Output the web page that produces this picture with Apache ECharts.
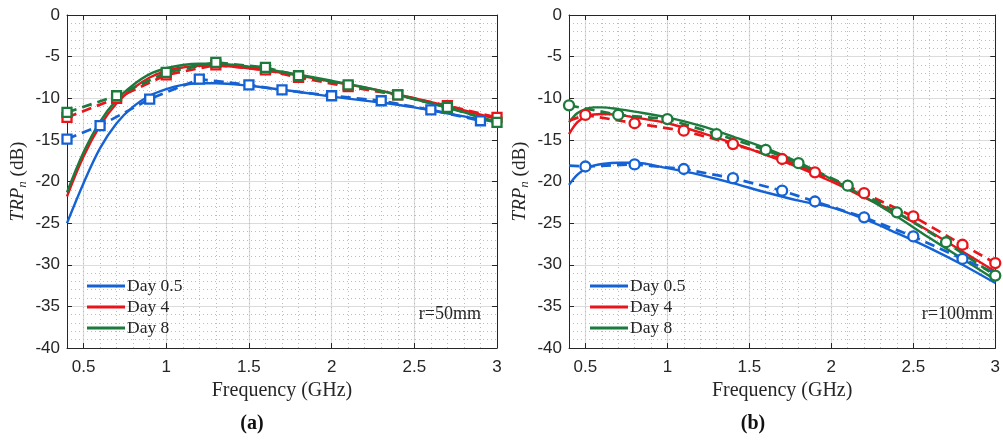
<!DOCTYPE html>
<html>
<head>
<meta charset="utf-8">
<script src="https://cdn.jsdelivr.net/npm/echarts@6/dist/echarts.min.js"></script>
<style>html,body{margin:0;padding:0;background:#fff}#c{width:1003px;height:441px}</style>
</head>
<body>
<div id="c"></div>
<script>
// ---------- tick labels ----------
const xMajor = [0.5, 1, 1.5, 2, 2.5, 3];
const xMinor = [0.5,0.6,0.7,0.8,0.9,1,1.1,1.2,1.3,1.4,1.5,1.6,1.7,1.8,1.9,2,2.1,2.2,2.3,2.4,2.5,2.6,2.7,2.8,2.9];
const seriesNames = ['Day 0.5', 'Day 4', 'Day 8'];

// ---------- (a) r=50mm : model (solid) ----------
const aModelFreq = [0.4,0.5,0.6,0.7,0.8,0.9,1.0,1.1,1.2,1.3,1.5,1.75,2.0,2.25,2.5,2.75,3.0];
const aModelDay05 = [-25.0,-20.2,-16.0,-13.0,-11.0,-9.7,-8.9,-8.4,-8.2,-8.2,-8.5,-9.1,-9.8,-10.4,-11.1,-12.0,-12.9];
const aModelDay4  = [-21.8,-17.0,-13.3,-10.6,-8.8,-7.5,-6.7,-6.3,-6.1,-6.1,-6.4,-7.1,-8.0,-8.9,-10.0,-11.2,-12.5];
const aModelDay8  = [-21.3,-16.5,-12.8,-10.2,-8.4,-7.1,-6.4,-6.0,-5.85,-5.85,-6.2,-7.0,-7.9,-8.9,-10.1,-11.4,-12.9];

// ---------- (a) r=50mm : measured (dashed + squares) ----------
const aMeasFreqDay05 = [0.4,0.6,0.9,1.2,1.5,1.7,2.0,2.3,2.6,2.9];
const aMeasDay05     = [-14.9,-13.3,-10.1,-7.7,-8.4,-9.0,-9.7,-10.3,-11.4,-12.7];
const aMeasFreqDay48 = [0.4,0.7,1.0,1.3,1.6,1.8,2.1,2.4,2.7,3.0];
const aMeasDay4      = [-12.3,-10.0,-7.2,-6.0,-6.6,-7.5,-8.6,-9.6,-10.9,-12.3];
const aMeasDay8      = [-11.7,-9.7,-6.9,-5.7,-6.3,-7.3,-8.4,-9.6,-11.1,-12.9];

// ---------- (b) r=100mm : model (solid) ----------
const bModelFreq = [0.4,0.45,0.5,0.55,0.6,0.7,0.8,1.0,1.2,1.4,1.6,1.8,2.0,2.2,2.4,2.6,2.8,3.0];
const bModelDay05 = [-20.4,-19.2,-18.5,-18.1,-17.9,-17.75,-17.75,-18.4,-19.2,-20.2,-21.3,-22.3,-23.1,-24.5,-26.2,-28.0,-30.0,-32.2];
const bModelDay4  = [-14.3,-12.9,-12.2,-11.95,-11.9,-12.0,-12.3,-13.0,-14.1,-15.4,-16.8,-18.3,-20.0,-21.9,-23.8,-26.0,-28.4,-30.8];
const bModelDay8  = [-12.9,-11.8,-11.3,-11.1,-11.1,-11.3,-11.6,-12.3,-13.3,-14.6,-16.0,-17.7,-19.7,-21.8,-24.2,-26.8,-29.3,-31.8];

// ---------- (b) r=100mm : measured (dashed + circles) ----------
const bMeasFreqDay05 = [0.4,0.5,0.8,1.1,1.4,1.7,1.9,2.2,2.5,2.8,3.0];
const bMeasDay05     = [-18.1,-18.2,-17.95,-18.5,-19.6,-21.1,-22.4,-24.3,-26.6,-29.3,-31.0];
const bMarkFreqDay05 = [0.5,0.8,1.1,1.4,1.7,1.9,2.2,2.5,2.8];
const bMeasFreqDay4  = [0.4,0.5,0.8,1.1,1.4,1.7,1.9,2.2,2.5,2.8,3.0];
const bMeasDay4      = [-12.7,-12.0,-13.0,-13.9,-15.5,-17.3,-18.9,-21.4,-24.2,-27.6,-29.8];
const bMarkFreqDay4  = [0.5,0.8,1.1,1.4,1.7,1.9,2.2,2.5,2.8,3.0];
const bMeasFreqDay8  = [0.4,0.7,1.0,1.3,1.6,1.8,2.1,2.4,2.7,3.0];
const bMeasDay8      = [-10.85,-12.0,-12.5,-14.3,-16.2,-17.8,-20.5,-23.7,-27.3,-31.3];
const bMarkFreqDay8  = [0.4,0.7,1.0,1.3,1.6,1.8,2.1,2.4,2.7,3.0];

// ---------- styling ----------
const COLORS = ['#1462d4', '#e8151b', '#1b7a3c'];
const SANS = 'Liberation Sans';
const SERIF = 'Liberation Serif';
const AX = '#262626';

const chart = echarts.init(document.getElementById('c'), null, {renderer: 'canvas'});

function pairs(f, v) { return f.map((x, i) => [x, v[i]]); }

function solid(gi, name, f, v, ci) {
  return {
    type: 'line', name: name, xAxisIndex: gi * 3, yAxisIndex: gi * 2,
    data: pairs(f, v), smooth: 0.35, showSymbol: false, symbol: 'none',
    lineStyle: {color: COLORS[ci], width: 2.4}, itemStyle: {color: COLORS[ci]},
    z: 3, silent: true, animation: false
  };
}
function dashed(gi, name, f, v, marks, sym, ci) {
  return {
    type: 'line', name: name, xAxisIndex: gi * 3, yAxisIndex: gi * 2,
    data: f.map((x, i) => ({
      value: [x, v[i]],
      symbol: (marks ? marks.indexOf(x) >= 0 : true) ? sym : 'none'
    })),
    symbolSize: sym === 'rect' ? 9 : 10,
    showSymbol: true, showAllSymbol: true,
    lineStyle: {color: COLORS[ci], width: 2.7, type: [10, 6]},
    itemStyle: {color: '#ffffff', borderColor: COLORS[ci], borderWidth: 2.3},
    z: 4, silent: true, animation: false, clip: false
  };
}

const grids = [
  {left: 67, right: 506, top: 15, bottom: 93},
  {left: 569, right: 3, top: 15, bottom: 93}
];

const xAxes = [];
const yAxes = [];
grids.forEach((g, gi) => {
  xAxes.push({
    gridIndex: gi, type: 'value', min: 0.4, max: 3, position: 'bottom',
    name: 'Frequency (GHz)', nameLocation: 'middle', nameGap: 29,
    nameTextStyle: {fontFamily: SERIF, fontSize: 20, color: AX},
    axisLine: {show: true, onZero: false, lineStyle: {color: AX, width: 1}},
    axisTick: {show: true, inside: true, length: 5, customValues: xMajor, lineStyle: {color: AX}},
    axisLabel: {show: true, customValues: xMajor, fontFamily: SANS, fontSize: 17, color: AX, margin: 11},
    splitLine: {show: true, lineStyle: {color: '#dcdcdc', width: 1.2}}
  });
  xAxes.push({
    gridIndex: gi, type: 'value', min: 0.4, max: 3, position: 'top',
    axisLine: {show: true, onZero: false, lineStyle: {color: AX, width: 1}},
    axisTick: {show: true, inside: true, length: 5, customValues: xMajor, lineStyle: {color: AX}},
    axisLabel: {show: false}, splitLine: {show: false}
  });
  xAxes.push({
    gridIndex: gi, type: 'value', min: 0.4, max: 3, position: 'bottom',
    axisLine: {show: false}, axisTick: {show: false, customValues: xMinor},
    axisLabel: {show: false},
    splitLine: {show: true, lineStyle: {color: '#bdbdbd', width: 1, type: [1, 3]}}
  });
  yAxes.push({
    gridIndex: gi, type: 'value', min: -40, max: 0, interval: 5, position: 'left',
    name: '{i|TRP}{s|n} (dB)', nameLocation: 'middle', nameGap: 38, nameRotate: 90,
    nameTextStyle: {fontFamily: SERIF, fontSize: 19, color: AX,
      rich: {i: {fontFamily: SERIF, fontStyle: 'italic', fontSize: 19, color: AX, lineHeight: 22, verticalAlign: 'middle'},
             s: {fontFamily: SERIF, fontStyle: 'italic', fontSize: 13, color: AX, lineHeight: 22, verticalAlign: 'bottom'}}},
    axisLine: {show: true, onZero: false, lineStyle: {color: AX, width: 1}},
    axisTick: {show: true, inside: true, length: 5, lineStyle: {color: AX}},
    axisLabel: {fontFamily: SANS, fontSize: 17, color: AX, margin: 7},
    splitLine: {show: true, lineStyle: {color: '#dcdcdc', width: 1.2}},
    minorTick: {show: false, splitNumber: 5},
    minorSplitLine: {show: true, lineStyle: {color: '#bdbdbd', width: 1, type: [1, 3]}}
  });
  yAxes.push({
    gridIndex: gi, type: 'value', min: -40, max: 0, interval: 5, position: 'right',
    axisLine: {show: true, onZero: false, lineStyle: {color: AX, width: 1}},
    axisTick: {show: true, inside: true, length: 5, lineStyle: {color: AX}},
    axisLabel: {show: false}, splitLine: {show: false}
  });
});

const series = [
  solid(0, seriesNames[0], aModelFreq, aModelDay05, 0),
  solid(0, seriesNames[1], aModelFreq, aModelDay4, 1),
  solid(0, seriesNames[2], aModelFreq, aModelDay8, 2),
  dashed(0, 'a-meas-0.5', aMeasFreqDay05, aMeasDay05, null, 'rect', 0),
  dashed(0, 'a-meas-4', aMeasFreqDay48, aMeasDay4, null, 'rect', 1),
  dashed(0, 'a-meas-8', aMeasFreqDay48, aMeasDay8, null, 'rect', 2),
  solid(1, seriesNames[0], bModelFreq, bModelDay05, 0),
  solid(1, seriesNames[1], bModelFreq, bModelDay4, 1),
  solid(1, seriesNames[2], bModelFreq, bModelDay8, 2),
  dashed(1, 'b-meas-0.5', bMeasFreqDay05, bMeasDay05, bMarkFreqDay05, 'circle', 0),
  dashed(1, 'b-meas-4', bMeasFreqDay4, bMeasDay4, bMarkFreqDay4, 'circle', 1),
  dashed(1, 'b-meas-8', bMeasFreqDay8, bMeasDay8, bMarkFreqDay8, 'circle', 2)
];

function legendAt(left) {
  return {
    left: left, top: 272, orient: 'vertical', itemGap: 3,
    itemWidth: 38, itemHeight: 3, icon: 'rect',
    data: seriesNames.map((n, i) => ({name: n, itemStyle: {color: COLORS[i]}})),
    textStyle: {fontFamily: SERIF, fontSize: 17.5, color: AX, lineHeight: 18, padding: [0, 0, 0, -3]},
    selectedMode: false
  };
}

const option = {
  backgroundColor: '#ffffff',
  animation: false,
  grid: grids,
  xAxis: xAxes,
  yAxis: yAxes,
  legend: [legendAt(82), legendAt(585)],
  series: series,
  graphic: [
    {type: 'text', x: 481, y: 314, z: 10, style: {text: 'r=50mm', font: '18px "Liberation Serif"', fill: AX, align: 'right', verticalAlign: 'middle'}},
    {type: 'text', x: 993, y: 314, z: 10, style: {text: 'r=100mm', font: '18px "Liberation Serif"', fill: AX, align: 'right', verticalAlign: 'middle'}},
    {type: 'text', x: 252, y: 424, style: {text: '(a)', font: 'bold 20px "Liberation Serif"', fill: '#111', align: 'center', verticalAlign: 'middle'}},
    {type: 'text', x: 753, y: 424, style: {text: '(b)', font: 'bold 20px "Liberation Serif"', fill: '#111', align: 'center', verticalAlign: 'middle'}}
  ]
};
chart.setOption(option);
</script>
</body>
</html>
